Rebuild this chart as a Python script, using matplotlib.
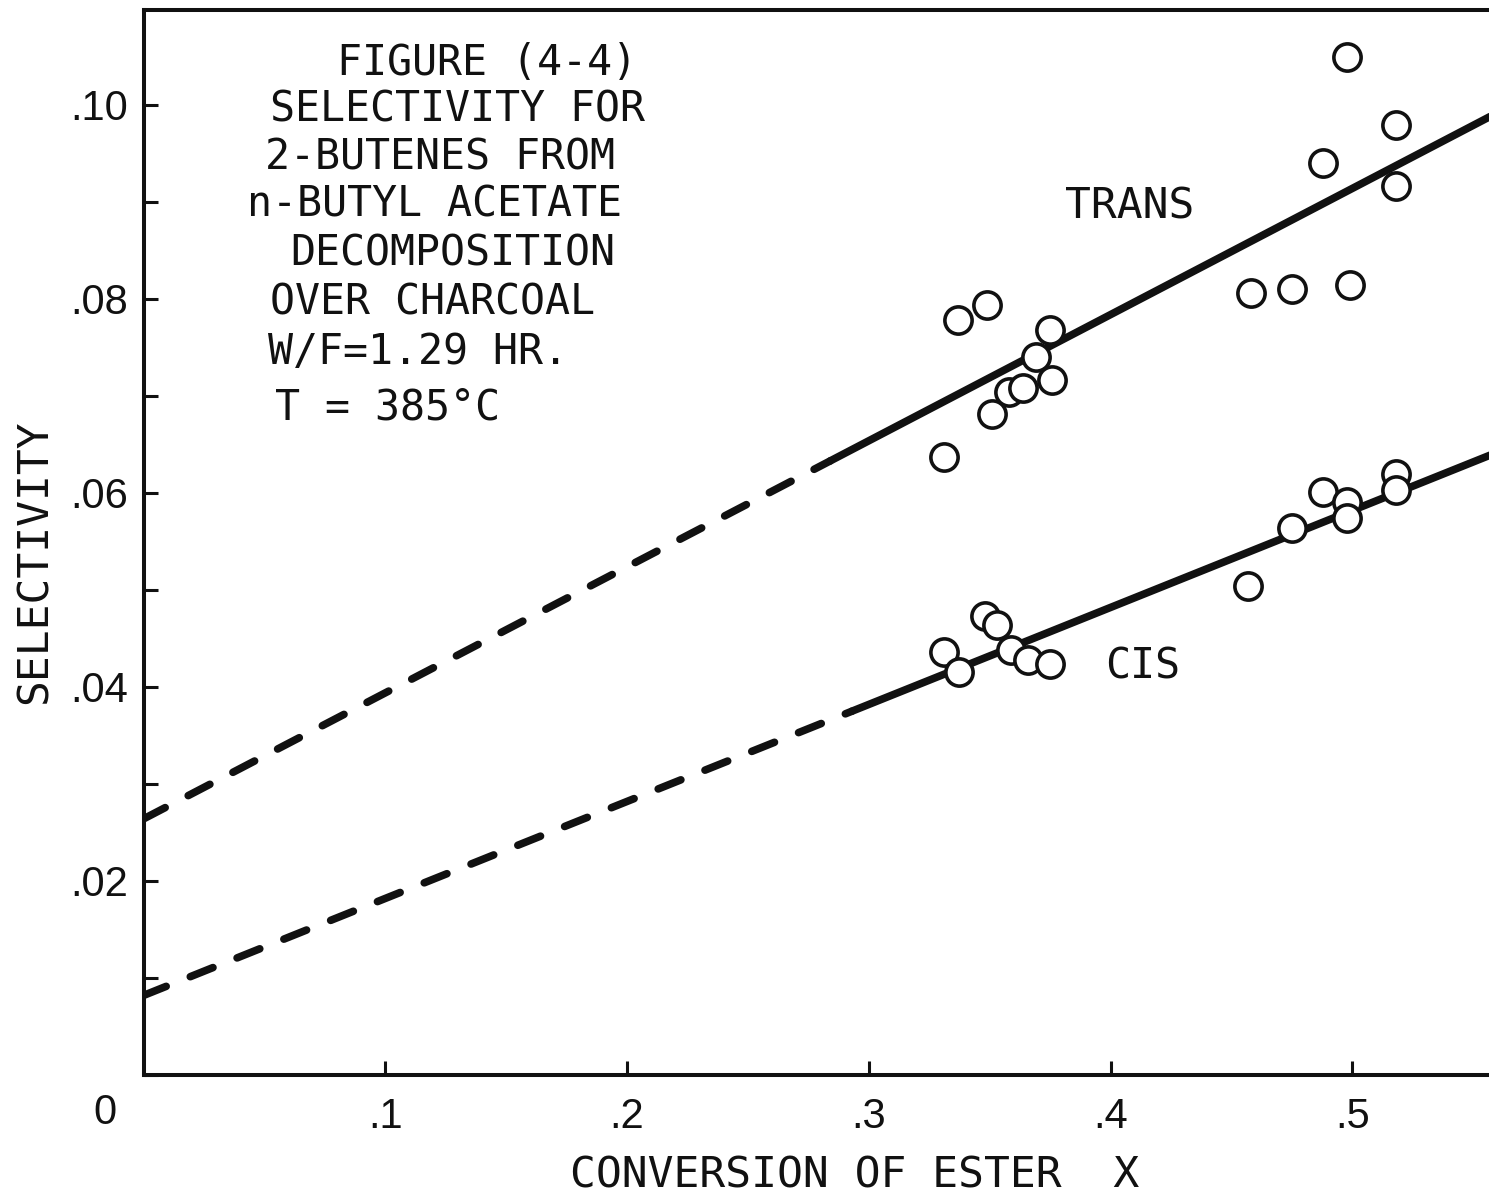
import matplotlib
matplotlib.use("Agg")
import matplotlib.pyplot as plt
from matplotlib.ticker import FixedLocator, MultipleLocator

# measured selectivities (conversion X, selectivity)
trans_x = [0.331, 0.337, 0.349, 0.351, 0.358, 0.364, 0.369, 0.375, 0.376,
           0.458, 0.475, 0.488, 0.498, 0.499, 0.518, 0.518]
trans_y = [0.0637, 0.0778, 0.0794, 0.0681, 0.0704, 0.0708, 0.0740, 0.0768, 0.0716,
           0.0806, 0.0810, 0.0940, 0.1049, 0.0814, 0.0979, 0.0917]

cis_x = [0.331, 0.3375, 0.348, 0.353, 0.359, 0.366, 0.375,
         0.457, 0.475, 0.488, 0.498, 0.498, 0.518, 0.518]
cis_y = [0.0436, 0.0415, 0.0473, 0.0464, 0.0438, 0.0428, 0.0424,
         0.0504, 0.0564, 0.0601, 0.0591, 0.0574, 0.0620, 0.0603]

# fitted lines: extrapolated (dashed) part and fitted (solid) part
trans_fit_x = [0.0, 0.284, 0.56]
trans_fit_y = [0.0264, 0.0633, 0.0992]
cis_fit_x = [0.0, 0.293, 0.56]
cis_fit_y = [0.0082, 0.0375, 0.0642]

x_ticks = [0.1, 0.2, 0.3, 0.4, 0.5]
x_labels = ['.1', '.2', '.3', '.4', '.5']
y_ticks = [0.02, 0.04, 0.06, 0.08, 0.10]
y_labels = ['.02', '.04', '.06', '.08', '.10']

# caption block, positions in pixels from the top-left corner
title_lines = [
    (337, 63, 'FIGURE (4-4)'),
    (270, 110, 'SELECTIVITY FOR'),
    (265, 158, '2-BUTENES FROM'),
    (247, 205, 'n-BUTYL ACETATE'),
    (290, 254, 'DECOMPOSITION'),
    (270, 303, 'OVER CHARCOAL'),
    (268, 352, 'W/F=1.29 HR.'),
    (275, 408, 'T = 385°C'),
]

W, H = 1489, 1198
fig = plt.figure(figsize=(W / 100, H / 100), dpi=100)
ax = fig.add_axes([143.5 / W, (H - 1075) / H, (W - 143.5) / W, 1065 / H])

mono = 'DejaVu Sans Mono'
sans = ['Liberation Sans', 'DejaVu Sans']
ink = '#111111'
lw = 5.5
dash = (0, (3.2, 3.4))

for fx, fy in [(trans_fit_x, trans_fit_y), (cis_fit_x, cis_fit_y)]:
    ax.plot(fx[:2], fy[:2], color=ink, lw=lw, ls=dash, dash_capstyle='round', zorder=2)
    ax.plot(fx[1:], fy[1:], color=ink, lw=lw, solid_capstyle='round', zorder=2)

for px, py in [(trans_x, trans_y), (cis_x, cis_y)]:
    ax.plot(px, py, ls='none', marker='o', ms=19.6, mew=2.6,
            mfc='white', mec=ink, zorder=3)

ax.set_xlim(0, (W - 143.5) / 2417.5)
ax.set_ylim(0, 1065 / 9700)

ax.spines['right'].set_visible(False)
for s in ['left', 'bottom', 'top']:
    ax.spines[s].set_linewidth(2.9)
    ax.spines[s].set_color(ink)

ax.xaxis.set_major_locator(FixedLocator(x_ticks))
ax.set_xticklabels(x_labels, family=sans, fontsize=30)
ax.yaxis.set_major_locator(FixedLocator(y_ticks))
ax.yaxis.set_minor_locator(MultipleLocator(0.01))
ax.set_yticklabels(y_labels, family=sans, fontsize=30)
ax.tick_params(axis='both', which='both', direction='in', length=10, width=2.2,
               color=ink, labelcolor=ink, top=False, right=False)
ax.tick_params(axis='x', pad=16)
ax.tick_params(axis='y', pad=11)

ax.text(-0.016, -0.0357, '0', transform=ax.get_xaxis_transform(),
        ha='center', va='center', family=sans, fontsize=30, color=ink)

def px_to_data(x, y):
    return (x - 143.5) / 2417.5, (1075 - y) / 9700

for x, y, s in title_lines:
    dx, dy = px_to_data(x, y)
    ax.text(dx, dy, s, family=mono, fontsize=30, ha='left', va='center', color=ink)

tx, ty = px_to_data(1065, 207)
ax.text(tx, ty, 'TRANS', family=mono, fontsize=31, ha='left', va='center', color=ink)
cx, cy = px_to_data(1105, 667)
ax.text(cx, cy, 'CIS', family=mono, fontsize=30, ha='left', va='center', color=ink)

fig.text(35 / W, 1 - 562 / H, 'SELECTIVITY', rotation=90, family=mono,
         fontsize=31, ha='center', va='center', color=ink)
fig.text(855 / W, 1 - 1175 / H, 'CONVERSION OF ESTER  X', family=mono,
         fontsize=31, ha='center', va='center', color=ink)

fig.savefig('out.png', dpi=100, facecolor='white')
